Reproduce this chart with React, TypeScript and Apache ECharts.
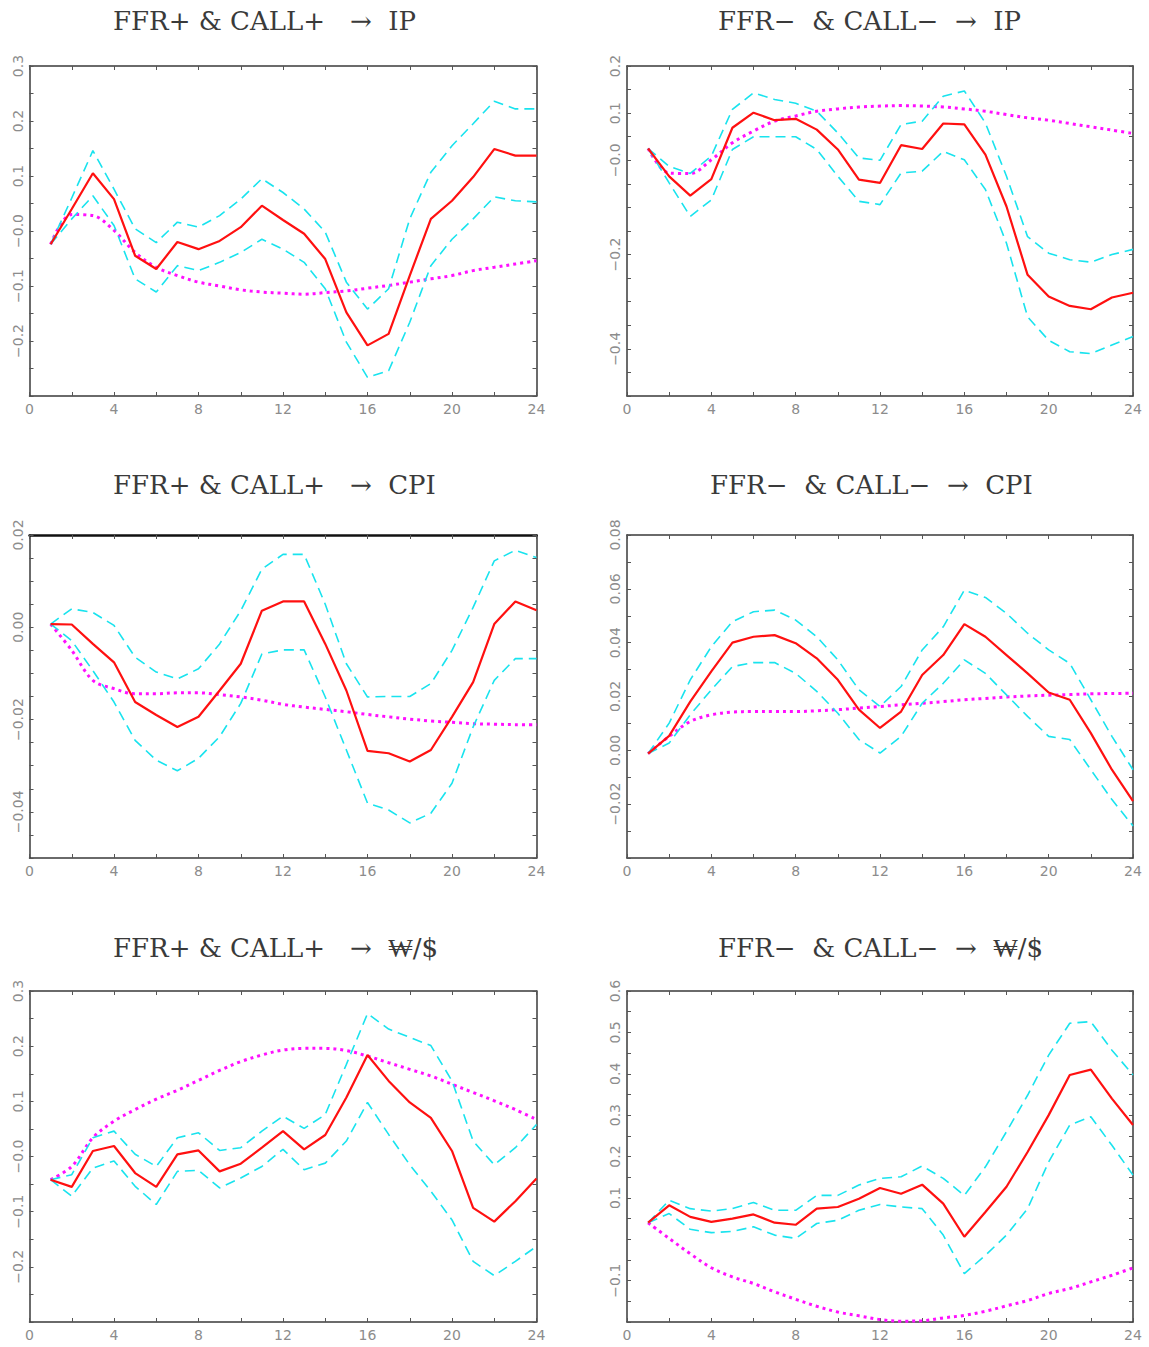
import React, { useEffect, useRef } from "react";
import * as echarts from "echarts";

const horizons = [1, 2, 3, 4, 5, 6, 7, 8, 9, 10, 11, 12, 13, 14, 15, 16, 17, 18, 19, 20, 21, 22, 23, 24];
const xTickLabels = ["0", "4", "8", "12", "16", "20", "24"];

const panelTitles = [
  "FFR+ & CALL+   →  IP",
  "FFR−  & CALL−  →  IP",
  "FFR+ & CALL+   →  CPI",
  "FFR−  & CALL−  →  CPI",
  "FFR+ & CALL+   →  ₩/$",
  "FFR−  & CALL−  →  ₩/$",
];

// Panel 1: FFR+ & CALL+ -> IP
const ipPosMean = [-0.024, 0.04, 0.105, 0.058, -0.045, -0.069, -0.02, -0.033, -0.018, 0.007, 0.046, 0.02, -0.005, -0.051, -0.148, -0.208, -0.187, -0.081, 0.022, 0.055, 0.098, 0.149, 0.137, 0.137];
const ipPosUpper = [-0.024, 0.06, 0.146, 0.076, 0.004, -0.021, 0.016, 0.007, 0.028, 0.058, 0.095, 0.07, 0.04, -0.002, -0.093, -0.142, -0.105, 0.022, 0.107, 0.155, 0.195, 0.236, 0.222, 0.222];
const ipPosLower = [-0.024, 0.022, 0.064, 0.01, -0.087, -0.111, -0.063, -0.072, -0.057, -0.039, -0.015, -0.033, -0.057, -0.105, -0.202, -0.266, -0.254, -0.166, -0.063, -0.015, 0.022, 0.062, 0.055, 0.053];
const ipPosBase = [-0.024, 0.03, 0.028, 0.001, -0.039, -0.066, -0.081, -0.093, -0.1, -0.107, -0.111, -0.113, -0.115, -0.112, -0.109, -0.104, -0.099, -0.093, -0.087, -0.081, -0.072, -0.066, -0.06, -0.054];

// Panel 2: FFR- & CALL- -> IP
const ipNegMean = [0.025, -0.034, -0.075, -0.04, 0.069, 0.101, 0.085, 0.088, 0.065, 0.023, -0.041, -0.048, 0.032, 0.024, 0.078, 0.076, 0.012, -0.098, -0.243, -0.289, -0.309, -0.316, -0.291, -0.281];
const ipNegUpper = [0.025, -0.013, -0.028, 0.009, 0.108, 0.143, 0.129, 0.121, 0.104, 0.058, 0.005, 0.0, 0.076, 0.083, 0.136, 0.147, 0.079, -0.034, -0.162, -0.197, -0.211, -0.216, -0.2, -0.189];
const ipNegLower = [0.025, -0.048, -0.119, -0.084, 0.023, 0.05, 0.05, 0.05, 0.023, -0.034, -0.087, -0.094, -0.027, -0.023, 0.019, 0.001, -0.062, -0.176, -0.332, -0.382, -0.406, -0.41, -0.392, -0.374];
const ipNegBase = [0.025, -0.027, -0.028, 0.001, 0.037, 0.062, 0.083, 0.094, 0.104, 0.109, 0.113, 0.115, 0.116, 0.115, 0.113, 0.109, 0.104, 0.097, 0.09, 0.085, 0.078, 0.071, 0.064, 0.057];

// Panel 3: FFR+ & CALL+ -> CPI
const cpiPosMean = [0.0007, 0.0006, -0.0036, -0.0076, -0.0162, -0.019, -0.0216, -0.0194, -0.0137, -0.0079, 0.0036, 0.0056, 0.0056, -0.0036, -0.0137, -0.0268, -0.0273, -0.0291, -0.0266, -0.0194, -0.0119, 0.0007, 0.0056, 0.0037];
const cpiPosUpper = [0.0007, 0.004, 0.0032, 0.0004, -0.0065, -0.0097, -0.0112, -0.009, -0.0036, 0.0036, 0.0126, 0.0158, 0.0158, 0.005, -0.0079, -0.0151, -0.015, -0.015, -0.0122, -0.005, 0.0043, 0.0144, 0.0167, 0.0151];
const cpiPosLower = [0.0007, -0.0029, -0.0094, -0.0162, -0.0245, -0.0288, -0.0311, -0.0284, -0.0237, -0.0165, -0.0058, -0.0049, -0.0049, -0.0151, -0.0266, -0.0381, -0.0396, -0.0424, -0.0403, -0.0338, -0.0216, -0.0115, -0.0068, -0.0068];
const cpiPosBase = [0.0007, -0.005, -0.0115, -0.0133, -0.0144, -0.0144, -0.0142, -0.0142, -0.0146, -0.0151, -0.0158, -0.0167, -0.0173, -0.0178, -0.0183, -0.0189, -0.0194, -0.0199, -0.0203, -0.0206, -0.0209, -0.021, -0.0211, -0.0211];

// Panel 4: FFR- & CALL- -> CPI
const cpiNegMean = [-0.0012, 0.0054, 0.0181, 0.0293, 0.04, 0.0422, 0.0428, 0.0398, 0.0342, 0.0262, 0.0151, 0.0083, 0.0144, 0.028, 0.0354, 0.0469, 0.0422, 0.0354, 0.0286, 0.0215, 0.0188, 0.0064, -0.0072, -0.0189];
const cpiNegUpper = [-0.0012, 0.0101, 0.0262, 0.0385, 0.0478, 0.0515, 0.0521, 0.0484, 0.0422, 0.0336, 0.0225, 0.0163, 0.0237, 0.0373, 0.0459, 0.0595, 0.0568, 0.0509, 0.0435, 0.0373, 0.0323, 0.0188, 0.0052, -0.0072];
const cpiNegLower = [-0.0012, 0.0027, 0.0132, 0.0225, 0.0311, 0.0326, 0.0326, 0.0286, 0.0219, 0.0138, 0.004, -0.001, 0.0052, 0.0175, 0.0249, 0.0336, 0.0286, 0.0206, 0.0126, 0.0052, 0.004, -0.0072, -0.0183, -0.0281];
const cpiNegBase = [-0.0012, 0.0052, 0.0107, 0.0132, 0.0142, 0.0144, 0.0144, 0.0144, 0.0147, 0.0151, 0.0157, 0.0163, 0.0169, 0.0175, 0.0181, 0.0188, 0.0193, 0.0198, 0.0202, 0.0205, 0.0207, 0.021, 0.0211, 0.0212];

// Panel 5: FFR+ & CALL+ -> KRW/USD
const fxPosMean = [-0.042, -0.055, 0.01, 0.019, -0.03, -0.055, 0.004, 0.011, -0.027, -0.013, 0.016, 0.046, 0.013, 0.039, 0.107, 0.184, 0.137, 0.098, 0.07, 0.01, -0.093, -0.118, -0.081, -0.04];
const fxPosUpper = [-0.042, -0.033, 0.034, 0.046, 0.004, -0.018, 0.034, 0.043, 0.011, 0.016, 0.046, 0.073, 0.051, 0.076, 0.167, 0.259, 0.231, 0.216, 0.201, 0.137, 0.028, -0.015, 0.016, 0.058];
const fxPosLower = [-0.042, -0.072, -0.021, -0.008, -0.054, -0.087, -0.027, -0.025, -0.057, -0.039, -0.018, 0.013, -0.024, -0.012, 0.028, 0.098, 0.04, -0.015, -0.063, -0.115, -0.19, -0.216, -0.19, -0.163];
const fxPosBase = [-0.042, -0.018, 0.034, 0.064, 0.085, 0.104, 0.12, 0.138, 0.156, 0.172, 0.184, 0.193, 0.196, 0.196, 0.192, 0.182, 0.17, 0.158, 0.146, 0.131, 0.116, 0.101, 0.085, 0.067];

// Panel 6: FFR- & CALL- -> KRW/USD
const fxNegMean = [0.04, 0.082, 0.054, 0.042, 0.05, 0.06, 0.04, 0.035, 0.074, 0.078, 0.098, 0.124, 0.11, 0.132, 0.086, 0.006, 0.066, 0.127, 0.211, 0.3, 0.397, 0.41, 0.34, 0.276];
const fxNegUpper = [0.04, 0.094, 0.074, 0.068, 0.074, 0.089, 0.07, 0.07, 0.106, 0.106, 0.131, 0.147, 0.151, 0.177, 0.147, 0.106, 0.175, 0.26, 0.348, 0.445, 0.522, 0.526, 0.457, 0.397];
const fxNegLower = [0.04, 0.062, 0.024, 0.016, 0.019, 0.03, 0.01, 0.002, 0.038, 0.046, 0.07, 0.084, 0.078, 0.074, 0.01, -0.083, -0.039, 0.01, 0.074, 0.187, 0.276, 0.296, 0.227, 0.155];
const fxNegBase = [0.04, 0.002, -0.035, -0.069, -0.091, -0.107, -0.127, -0.145, -0.162, -0.176, -0.185, -0.194, -0.198, -0.197, -0.19, -0.184, -0.174, -0.161, -0.148, -0.131, -0.119, -0.103, -0.087, -0.069];

// y-axis tick labels per panel (value -> text)
const yLabelsIpPos: [number, string][] = [[0.3, "0.3"], [0.2, "0.2"], [0.1, "0.1"], [0, "−0.0"], [-0.1, "−0.1"], [-0.2, "−0.2"]];
const yLabelsIpNeg: [number, string][] = [[0.2, "0.2"], [0.1, "0.1"], [0, "−0.0"], [-0.2, "−0.2"], [-0.4, "−0.4"]];
const yLabelsCpiPos: [number, string][] = [[0.02, "0.02"], [0, "0.00"], [-0.02, "−0.02"], [-0.04, "−0.04"]];
const yLabelsCpiNeg: [number, string][] = [[0.08, "0.08"], [0.06, "0.06"], [0.04, "0.04"], [0.02, "0.02"], [0, "0.00"], [-0.02, "−0.02"]];
const yLabelsFxPos: [number, string][] = [[0.3, "0.3"], [0.2, "0.2"], [0.1, "0.1"], [0, "−0.0"], [-0.1, "−0.1"], [-0.2, "−0.2"]];
const yLabelsFxNeg: [number, string][] = [[0.6, "0.6"], [0.5, "0.5"], [0.4, "0.4"], [0.3, "0.3"], [0.2, "0.2"], [0.1, "0.1"], [-0.1, "−0.1"]];

type Panel = {
  title: string;
  titleLeft: number;
  titleTop: number;
  grid: { left: number; top: number; width: number; height: number };
  yMin: number;
  yMax: number;
  yStep: number;
  yLabels: [number, string][];
  mean: number[];
  upper: number[];
  lower: number[];
  base: number[];
  thickTop?: boolean;
};

const panels: Panel[] = [
  { title: panelTitles[0], titleLeft: 113, titleTop: 8, grid: { left: 29.5, top: 66, width: 507, height: 330 }, yMin: -0.3, yMax: 0.3, yStep: 0.05, yLabels: yLabelsIpPos, mean: ipPosMean, upper: ipPosUpper, lower: ipPosLower, base: ipPosBase },
  { title: panelTitles[1], titleLeft: 718, titleTop: 8, grid: { left: 627, top: 66, width: 506, height: 330 }, yMin: -0.5, yMax: 0.2, yStep: 0.05, yLabels: yLabelsIpNeg, mean: ipNegMean, upper: ipNegUpper, lower: ipNegLower, base: ipNegBase },
  { title: panelTitles[2], titleLeft: 113, titleTop: 472, grid: { left: 29.5, top: 535, width: 507, height: 323 }, yMin: -0.05, yMax: 0.02, yStep: 0.005, yLabels: yLabelsCpiPos, mean: cpiPosMean, upper: cpiPosUpper, lower: cpiPosLower, base: cpiPosBase, thickTop: true },
  { title: panelTitles[3], titleLeft: 710, titleTop: 472, grid: { left: 627, top: 535, width: 506, height: 323 }, yMin: -0.04, yMax: 0.08, yStep: 0.01, yLabels: yLabelsCpiNeg, mean: cpiNegMean, upper: cpiNegUpper, lower: cpiNegLower, base: cpiNegBase },
  { title: panelTitles[4], titleLeft: 113, titleTop: 935, grid: { left: 29.5, top: 991, width: 507, height: 331 }, yMin: -0.3, yMax: 0.3, yStep: 0.05, yLabels: yLabelsFxPos, mean: fxPosMean, upper: fxPosUpper, lower: fxPosLower, base: fxPosBase },
  { title: panelTitles[5], titleLeft: 718, titleTop: 935, grid: { left: 627, top: 991, width: 506, height: 331 }, yMin: -0.2, yMax: 0.6, yStep: 0.05, yLabels: yLabelsFxNeg, mean: fxNegMean, upper: fxNegUpper, lower: fxNegLower, base: fxNegBase },
];

const AXIS_COLOR = "#3a3a3a";
const LABEL_COLOR = "#8c8c8c";
const RED = "#ff1010";
const CYAN = "#19e3ee";
const MAGENTA = "#ff10ff";

function buildOption() {
  const grids: any[] = [];
  const xAxes: any[] = [];
  const yAxes: any[] = [];
  const series: any[] = [];
  const titles: any[] = [];

  panels.forEach((p, i) => {
    grids.push({ ...p.grid, containLabel: false });
    titles.push({
      text: p.title,
      left: p.titleLeft,
      top: p.titleTop,
      padding: 0,
      textStyle: { fontFamily: "DejaVu Serif", fontSize: 26, fontWeight: "lighter", color: "#3a3a3a" },
    });
    const lineStyle = { color: AXIS_COLOR, width: 1.5 };
    const tick = { show: true, inside: true, length: 4, lineStyle: { color: "#555", width: 1 } };
    xAxes.push({
      type: "value",
      gridIndex: i,
      position: "bottom",
      min: 0,
      max: 24,
      interval: 2,
      axisLine: { show: true, onZero: false, lineStyle },
      axisTick: tick,
      splitLine: { show: false },
      axisLabel: {
        show: true,
        margin: 6,
        color: LABEL_COLOR,
        fontFamily: "DejaVu Sans",
        fontSize: 14,
        formatter: (v: number) => {
          const s = String(Math.round(v));
          return xTickLabels.indexOf(s) >= 0 && Math.round(v) % 4 === 0 ? s : "";
        },
      },
    });
    xAxes.push({
      type: "value",
      gridIndex: i,
      position: "top",
      min: 0,
      max: 24,
      interval: 2,
      axisLine: { show: true, onZero: false, lineStyle: p.thickTop ? { color: "#111", width: 2.5 } : lineStyle },
      axisTick: tick,
      splitLine: { show: false },
      axisLabel: { show: false },
    });
    const labelMap = new Map<number, string>();
    p.yLabels.forEach(([v, s]) => labelMap.set(Math.round(v * 1000), s));
    yAxes.push({
      type: "value",
      gridIndex: i,
      position: "left",
      min: p.yMin,
      max: p.yMax,
      interval: p.yStep,
      axisLine: { show: true, onZero: false, lineStyle },
      axisTick: tick,
      splitLine: { show: false },
      axisLabel: {
        show: true,
        rotate: 90,
        margin: 5,
        color: LABEL_COLOR,
        fontFamily: "DejaVu Sans",
        fontSize: 14,
        showMinLabel: true,
        showMaxLabel: true,
        hideOverlap: false,
        formatter: (v: number) => labelMap.get(Math.round(v * 1000)) ?? "",
      },
    });
    yAxes.push({
      type: "value",
      gridIndex: i,
      position: "right",
      min: p.yMin,
      max: p.yMax,
      interval: p.yStep,
      axisLine: { show: true, onZero: false, lineStyle },
      axisTick: tick,
      splitLine: { show: false },
      axisLabel: { show: false },
    });

    const toData = (arr: number[]) => horizons.map((h, k) => [h, arr[k]]);
    const common = {
      type: "line",
      xAxisIndex: 2 * i,
      yAxisIndex: 2 * i,
      showSymbol: false,
      symbol: "none",
      silent: true,
    };
    series.push({
      ...common,
      name: `base-${i}`,
      data: toData(p.base),
      smooth: 0.35,
      lineStyle: { color: MAGENTA, width: 3, type: [3, 4] },
      z: 2,
    });
    series.push({
      ...common,
      name: `upper-${i}`,
      data: toData(p.upper),
      lineStyle: { color: CYAN, width: 1.6, type: [10, 6] },
      z: 3,
    });
    series.push({
      ...common,
      name: `lower-${i}`,
      data: toData(p.lower),
      lineStyle: { color: CYAN, width: 1.6, type: [10, 6] },
      z: 3,
    });
    series.push({
      ...common,
      name: `mean-${i}`,
      data: toData(p.mean),
      lineStyle: { color: RED, width: 2.2 },
      z: 4,
    });
  });

  return {
    animation: false,
    backgroundColor: "#ffffff",
    title: titles,
    grid: grids,
    xAxis: xAxes,
    yAxis: yAxes,
    series,
  };
}

export default function App() {
  const ref = useRef<HTMLDivElement>(null);
  useEffect(() => {
    if (!ref.current) return;
    const chart = echarts.init(ref.current, undefined, { renderer: "svg" });
    chart.setOption(buildOption() as any);
    return () => chart.dispose();
  }, []);
  return (
    <div
      ref={ref}
      style={{ position: "absolute", left: 0, top: 0, width: 1149, height: 1347, background: "#fff" }}
    />
  );
}
